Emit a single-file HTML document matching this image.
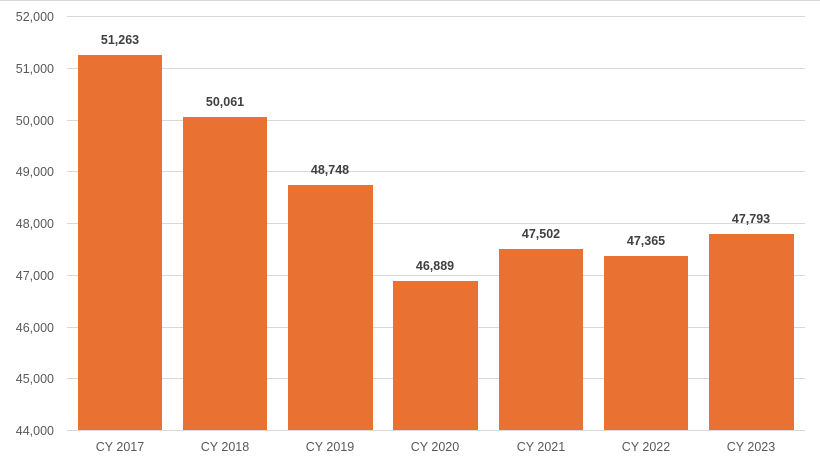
<!DOCTYPE html>
<html><head><style>body{margin:0;background:#fff}svg{display:block}</style></head>
<body>
<svg width="820" height="463" xmlns="http://www.w3.org/2000/svg" font-family="Liberation Sans, sans-serif">
<line x1="0" y1="0.5" x2="820" y2="0.5" stroke="#d9d9d9" stroke-width="1"/>
<g stroke="#d9d9d9" stroke-width="1">
<line x1="67" y1="16.5" x2="805" y2="16.5"/>
<line x1="67" y1="68.5" x2="805" y2="68.5"/>
<line x1="67" y1="120.5" x2="805" y2="120.5"/>
<line x1="67" y1="171.5" x2="805" y2="171.5"/>
<line x1="67" y1="223.5" x2="805" y2="223.5"/>
<line x1="67" y1="275.5" x2="805" y2="275.5"/>
<line x1="67" y1="327.5" x2="805" y2="327.5"/>
<line x1="67" y1="378.5" x2="805" y2="378.5"/>
<line x1="67" y1="430.5" x2="805" y2="430.5"/>
</g>
<g font-size="12.5" fill="#595959" text-anchor="end">
<text x="54" y="21">52,000</text>
<text x="54" y="73">51,000</text>
<text x="54" y="125">50,000</text>
<text x="54" y="176">49,000</text>
<text x="54" y="228">48,000</text>
<text x="54" y="280">47,000</text>
<text x="54" y="332">46,000</text>
<text x="54" y="383">45,000</text>
<text x="54" y="435">44,000</text>
</g>
<g fill="#E97132">
<rect x="78" y="55" width="84" height="375"/>
<rect x="183" y="117" width="84" height="313"/>
<rect x="288" y="185" width="85" height="245"/>
<rect x="393" y="281" width="85" height="149"/>
<rect x="499" y="249" width="84" height="181"/>
<rect x="604" y="256" width="84" height="174"/>
<rect x="709" y="234" width="85" height="196"/>
</g>
<g font-size="12.5" font-weight="bold" fill="#404040" text-anchor="middle">
<text x="120" y="44">51,263</text>
<text x="225" y="106">50,061</text>
<text x="330" y="174">48,748</text>
<text x="435" y="270">46,889</text>
<text x="541" y="238">47,502</text>
<text x="646" y="245">47,365</text>
<text x="751" y="223">47,793</text>
</g>
<g font-size="12.5" fill="#595959" text-anchor="middle">
<text x="120" y="451">CY 2017</text>
<text x="225" y="451">CY 2018</text>
<text x="330" y="451">CY 2019</text>
<text x="435" y="451">CY 2020</text>
<text x="541" y="451">CY 2021</text>
<text x="646" y="451">CY 2022</text>
<text x="751" y="451">CY 2023</text>
</g>
</svg>
</body></html>
